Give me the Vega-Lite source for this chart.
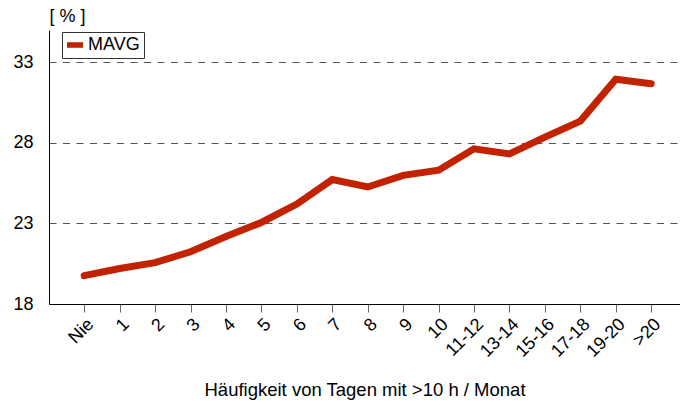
{
  "$schema": "https://vega.github.io/schema/vega-lite/v6.json",
  "width": 631,
  "height": 274,
  "autosize": {"type": "none"},
  "padding": {"left": 49, "top": 30, "right": 0, "bottom": 103},
  "background": "white",
  "config": {
    "font": "Liberation Sans",
    "view": {"stroke": null}
  },
  "data": {
    "values": [
      {"kategorie": "Nie", "wert": 19.76, "serie": "MAVG"},
      {"kategorie": "1", "wert": 20.2, "serie": "MAVG"},
      {"kategorie": "2", "wert": 20.57, "serie": "MAVG"},
      {"kategorie": "3", "wert": 21.24, "serie": "MAVG"},
      {"kategorie": "4", "wert": 22.19, "serie": "MAVG"},
      {"kategorie": "5", "wert": 23.06, "serie": "MAVG"},
      {"kategorie": "6", "wert": 24.2, "serie": "MAVG"},
      {"kategorie": "7", "wert": 25.72, "serie": "MAVG"},
      {"kategorie": "8", "wert": 25.26, "serie": "MAVG"},
      {"kategorie": "9", "wert": 25.98, "serie": "MAVG"},
      {"kategorie": "10", "wert": 26.3, "serie": "MAVG"},
      {"kategorie": "11-12", "wert": 27.63, "serie": "MAVG"},
      {"kategorie": "13-14", "wert": 27.31, "serie": "MAVG"},
      {"kategorie": "15-16", "wert": 28.35, "serie": "MAVG"},
      {"kategorie": "17-18", "wert": 29.35, "serie": "MAVG"},
      {"kategorie": "19-20", "wert": 31.94, "serie": "MAVG"},
      {"kategorie": ">20", "wert": 31.67, "serie": "MAVG"}
    ]
  },
  "mark": {"type": "line", "strokeWidth": 7, "strokeCap": "round", "strokeJoin": "miter"},
  "encoding": {
    "x": {
      "field": "kategorie",
      "type": "ordinal",
      "sort": null,
      "scale": {"type": "point", "padding": 0.903, "align": 0.55},
      "axis": {
        "title": "Häufigkeit von Tagen mit >10 h / Monat",
        "titleFont": "Liberation Sans",
        "titleFontSize": 18.5,
        "titleFontWeight": "normal",
        "titleColor": "#000",
        "titleY": 91,
        "titleBaseline": "alphabetic",
        "labelAngle": -45,
        "labelFontSize": 18,
        "labelColor": "#000",
        "labelPadding": 3,
        "domainColor": "#000",
        "domainWidth": 1,
        "tickColor": "#666",
        "tickSize": 8,
        "tickWidth": 1,
        "grid": false
      }
    },
    "y": {
      "field": "wert",
      "type": "quantitative",
      "scale": {"domain": [18, 35], "nice": false, "zero": false},
      "axis": {
        "title": "[ % ]",
        "titleAngle": 0,
        "titleAlign": "left",
        "titleBaseline": "alphabetic",
        "titleX": 0,
        "titleY": -8.6,
        "titleFontSize": 18,
        "titleFontWeight": "normal",
        "titleColor": "#000",
        "values": [18, 23, 28, 33],
        "labelFontSize": 18,
        "labelColor": "#000",
        "labelPadding": 16,
        "ticks": false,
        "domainColor": "#000",
        "domainWidth": 1,
        "grid": true,
        "gridColor": "#555",
        "gridDash": [7, 6.5],
        "gridWidth": 1
      }
    },
    "color": {
      "field": "serie",
      "type": "nominal",
      "scale": {"range": ["#C22200"]},
      "legend": {
        "title": null,
        "orient": "none",
        "legendX": 13,
        "legendY": 2,
        "strokeColor": "#333",
        "padding": 4,
        "symbolType": "M-1,-0.35H1V0.35H-1Z",
        "symbolSize": 256,
        "symbolFillColor": "#C22200",
        "symbolStrokeColor": "#C22200",
        "symbolStrokeWidth": 0,
        "symbolOpacity": 1,
        "labelFontSize": 18,
        "labelColor": "#000",
        "labelOffset": 4
      }
    }
  }
}
